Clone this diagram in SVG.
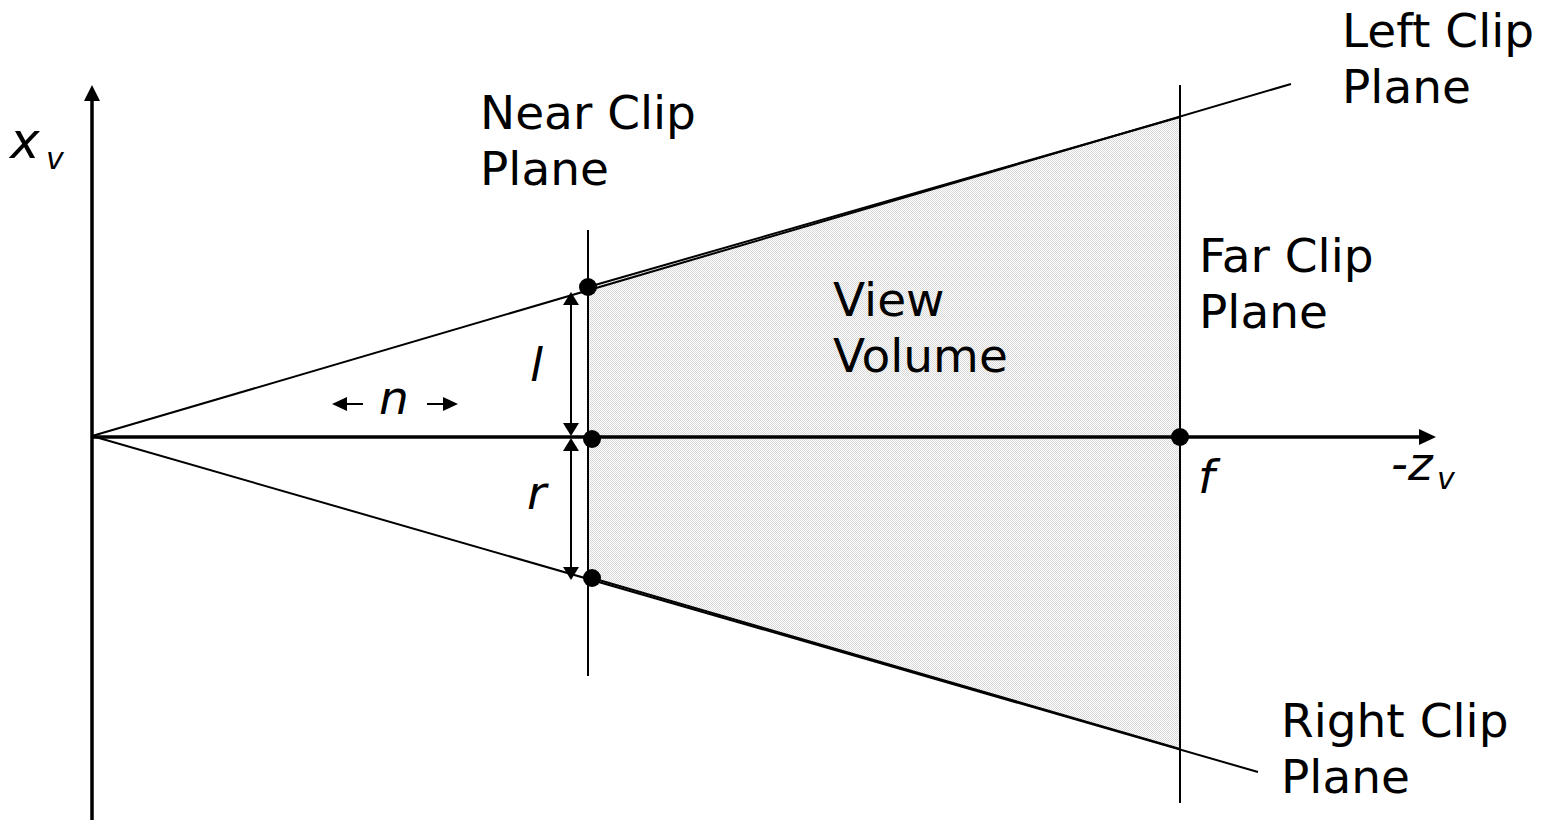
<svg xmlns="http://www.w3.org/2000/svg" width="1552" height="821" viewBox="0 0 1552 821">
<style>
.t{font-family:"DejaVu Sans","Verdana",sans-serif;font-size:47px;fill:#000}
.i{font-style:italic}
.thick{stroke:#000;stroke-width:3.5;fill:none}
.thin{stroke:#000;stroke-width:2;fill:none}
.head{fill:#000;stroke:none}
</style>
<defs>
<pattern id="chk" width="2" height="2" patternUnits="userSpaceOnUse">
<rect width="2" height="2" fill="#fff"/>
<rect width="1" height="1" fill="#d8d8d8"/>
<rect x="1" y="1" width="1" height="1" fill="#d8d8d8"/>
</pattern>
</defs>
<g id="volume">
<polygon points="588,287 1180,117 1180,749 588,577" fill="url(#chk)"/>
<line class="thin" x1="588" y1="287" x2="1180" y2="117"/>
<line class="thin" x1="592" y1="578" x2="1180" y2="749"/>
</g>
<g id="connectors">
<line class="thick" x1="92" y1="820" x2="92" y2="98"/>
<polygon class="head" points="92,85 84,101 100,101"/>
<line class="thick" x1="92" y1="437" x2="1422" y2="437"/>
<polygon class="head" points="1436,437 1419,429 1419,445"/>
<line class="thin" x1="92" y1="436" x2="1291" y2="84"/>
<line class="thin" x1="92" y1="436" x2="1258" y2="772"/>
<line class="thin" x1="588" y1="230" x2="588" y2="676"/>
<line class="thin" x1="1180" y1="85" x2="1180" y2="803"/>
<line class="thin" x1="571" y1="300" x2="571" y2="428"/>
<polygon class="head" points="571,292 563,305 579,305"/>
<polygon class="head" points="571,436 563,423 579,423"/>
<line class="thin" x1="571" y1="445" x2="571" y2="572"/>
<polygon class="head" points="571,438 563,451 579,451"/>
<polygon class="head" points="571,580 563,567 579,567"/>
<line class="thin" x1="363" y1="404" x2="340" y2="404"/>
<polygon class="head" points="332,404 347,397 347,411"/>
<line class="thin" x1="427" y1="404" x2="450" y2="404"/>
<polygon class="head" points="458,404 443,397 443,411"/>
</g>
<g id="dots" fill="#000">
<circle cx="588" cy="287" r="9"/>
<circle cx="592" cy="439" r="9"/>
<circle cx="1180" cy="437" r="9"/>
<circle cx="592" cy="578" r="9"/>
</g>
<g id="labels">
<text class="t i" x="10" y="158" style="font-size:50px">x</text>
<text class="t i" x="46" y="169" style="font-size:30px">v</text>
<text class="t" x="480" y="129">Near Clip</text>
<text class="t" x="480" y="185">Plane</text>
<text class="t" x="1342" y="47">Left Clip</text>
<text class="t" x="1342" y="103">Plane</text>
<text class="t" x="1199" y="272">Far Clip</text>
<text class="t" x="1199" y="328">Plane</text>
<text class="t" x="833" y="316">View</text>
<text class="t" x="833" y="372">Volume</text>
<text class="t" x="1281" y="737">Right Clip</text>
<text class="t" x="1281" y="793">Plane</text>
<text class="t i" x="530" y="381">l</text>
<text class="t i" x="527" y="509">r</text>
<text class="t i" x="379" y="414">n</text>
<text class="t i" x="1198" y="493">f</text>
<text class="t i" x="1391" y="480">-z</text>
<text class="t i" x="1437" y="489" style="font-size:30px">v</text>
</g>
</svg>
